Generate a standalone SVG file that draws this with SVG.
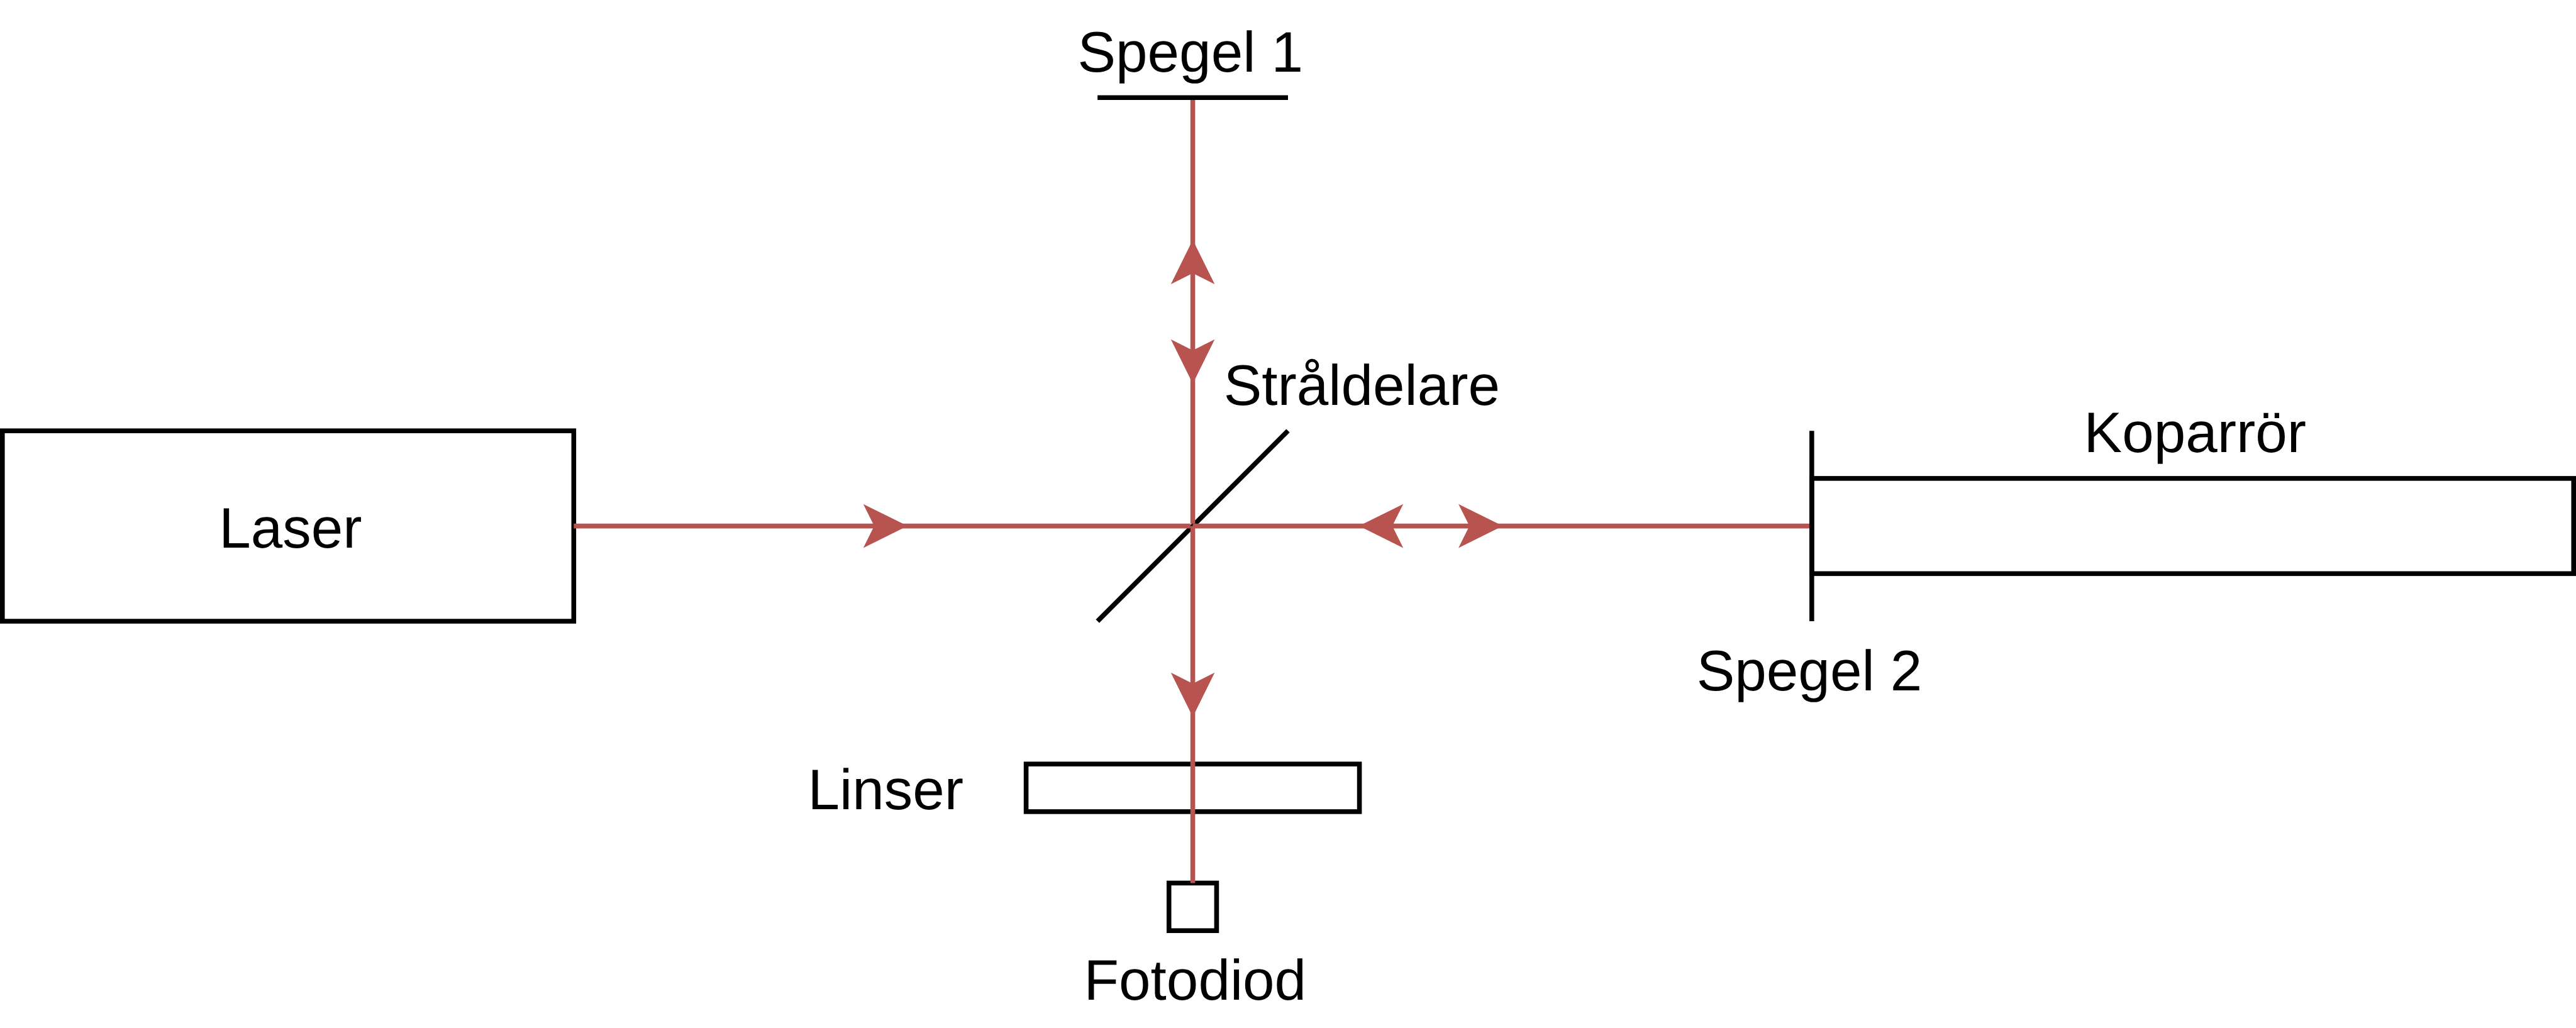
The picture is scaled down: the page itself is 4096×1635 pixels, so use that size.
<svg xmlns="http://www.w3.org/2000/svg" width="4096" height="1635" viewBox="0 0 4096 1635">
<style>
.box{fill:#fff;stroke:#000;stroke-width:10}
.line{fill:none;stroke:#000;stroke-width:10}
.beam{fill:none;stroke:#b85450;stroke-width:10}
.head{fill:#b85450}
text{font-family:"Liberation Sans",Arial,sans-serif;font-size:120px;fill:#000;text-anchor:middle;text-rendering:geometricPrecision}
</style>
<defs>
<path id="head" class="head" d="M0 0L-93 -46L-70 0L-93 46Z"/>
</defs>
<rect width="4096" height="1635" fill="#fff"/>
<g transform="scale(0.75712)">
<g id="laser"><rect class="box" x="5" y="905" width="1200" height="400"/><text x="610" y="1150">Laser</text></g>
<g id="koparror"><rect class="box" x="3805" y="1005" width="1600" height="200"/><text x="4610" y="950">Koparrör</text></g>
<g id="spegel1"><line class="line" x1="2305" y1="205" x2="2705" y2="205"/><text x="2500" y="150">Spegel 1</text></g>
<g id="spegel2"><line class="line" x1="3805" y1="905" x2="3805" y2="1305"/><text x="3800" y="1450">Spegel 2</text></g>
<g id="straldelare"><line class="line" x1="2305" y1="1305" x2="2705" y2="905"/><text x="2860" y="850">Stråldelare</text></g>
<g id="linser"><rect class="box" x="2155" y="1605" width="700" height="100"/><text x="1860" y="1700">Linser</text></g>
<g id="fotodiod"><rect class="box" x="2455" y="1855" width="100" height="100"/><text x="2510" y="2100">Fotodiod</text></g>
<g id="connectors">
<line class="beam" x1="1205" y1="1105" x2="2500" y2="1105"/>
<line class="beam" x1="2505" y1="1105" x2="3800" y2="1105"/>
<line class="beam" x1="2505" y1="210" x2="2505" y2="1100"/>
<line class="beam" x1="2505" y1="1105" x2="2505" y2="1855"/>
<use href="#head" transform="translate(1906 1105)"/>
<use href="#head" transform="translate(3156 1105)"/>
<use href="#head" transform="translate(2854 1105) rotate(180)"/>
<use href="#head" transform="translate(2505 504) rotate(-90)"/>
<use href="#head" transform="translate(2505 806) rotate(90)"/>
<use href="#head" transform="translate(2505 1506) rotate(90)"/>
</g>
</g>
</svg>
